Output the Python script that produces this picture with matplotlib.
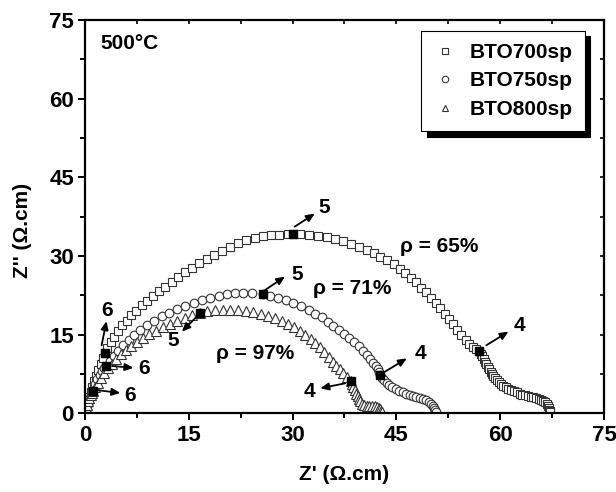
import matplotlib
matplotlib.use("Agg")
import matplotlib.pyplot as plt  # noqa: E402

plt.rcParams["font.family"] = ["Liberation Sans", "DejaVu Sans"]
plt.rcParams["font.weight"] = "bold"

# Nyquist points (Z', Z'') in ohm.cm
bto700_x = [0.1, 0.2, 0.3, 0.45, 0.6, 0.8, 1.0, 1.3, 1.6, 1.9, 2.3, 2.6, 2.9, 3.2, 3.7, 4.2,
            4.8, 5.4, 6.0, 6.7, 7.4, 8.2, 9.0, 9.8, 10.7, 11.6, 12.5, 13.5, 14.5, 15.5, 16.5,
            17.6, 18.7, 19.8, 20.9, 22.1, 23.3, 24.5, 25.7, 26.9, 28.1, 29.3, 30.1, 31.1,
            32.4, 33.7, 34.9, 36.1, 37.3, 38.5, 39.6, 40.7, 41.7, 42.7, 43.7, 44.6, 45.5,
            46.3, 47.1, 47.9, 48.6, 49.3, 50.0, 50.7, 51.3, 52.0, 52.6, 53.2, 53.8, 54.4,
            55.0, 55.5, 56.0, 56.5, 57.0, 57.2, 57.4, 57.6, 57.8, 58.0, 58.2, 58.4, 58.6,
            58.8, 59.0, 59.2, 59.5, 59.8, 60.1, 60.4, 60.8, 61.2, 61.6, 62.0, 62.4, 62.8,
            63.2, 63.6, 64.0, 64.4, 64.8, 65.2, 65.6, 65.9, 66.2, 66.5, 66.7, 66.9, 67.0,
            67.1, 67.2, 67.2]
bto700_y = [0.3, 0.9, 1.6, 2.4, 3.2, 4.1, 5.0, 6.1, 7.2, 8.3, 9.5, 10.6, 11.6, 12.5, 13.6, 14.6,
            15.7, 16.8, 17.7, 18.7, 19.6, 20.6, 21.5, 22.4, 23.3, 24.2, 25.1, 26.0, 26.9, 27.8,
            28.6, 29.5, 30.3, 31.0, 31.7, 32.4, 33.0, 33.5, 33.8, 34.0, 34.1, 34.2, 34.2, 34.2,
            34.1, 33.9, 33.6, 33.2, 32.8, 32.3, 31.8, 31.2, 30.6, 29.9, 29.2, 28.4, 27.6,
            26.8, 25.9, 25.0, 24.0, 23.1, 22.1, 21.1, 20.1, 19.0, 18.0, 17.0, 16.0, 15.0,
            14.0, 13.2, 12.6, 12.2, 11.9, 11.4, 10.9, 10.4, 9.9, 9.4, 8.9, 8.4, 8.0,
            7.6, 7.2, 6.8, 6.4, 6.0, 5.6, 5.3, 5.0, 4.7, 4.4, 4.2, 4.0, 3.8,
            3.6, 3.5, 3.3, 3.2, 3.1, 2.9, 2.8, 2.6, 2.4, 2.1, 1.8, 1.4, 1.0,
            0.7, 0.4, 0.2]

bto750_x = [0.1, 0.2, 0.3, 0.45, 0.6, 0.8, 1.0, 1.25, 1.5, 1.8, 2.1, 2.45, 2.8, 3.1, 3.6, 4.2,
            4.8, 5.5, 6.3, 7.1, 8.0, 9.0, 10.0, 11.1, 12.2, 13.3, 14.5, 15.7, 16.9, 18.1,
            19.3, 20.5, 21.7, 22.9, 24.1, 25.7, 26.8, 27.9, 29.0, 30.1, 31.2, 32.3, 33.3,
            34.2, 35.1, 35.9, 36.7, 37.5, 38.2, 38.9, 39.6, 40.2, 40.7, 41.2, 41.6, 42.0,
            42.3, 42.5, 42.6, 42.9, 43.2, 43.6, 44.0, 44.4, 44.9, 45.4, 45.9, 46.4, 46.9,
            47.4, 47.9, 48.4, 48.9, 49.3, 49.7, 50.0, 50.3, 50.5, 50.6, 50.7]
bto750_y = [0.3, 0.8, 1.4, 2.0, 2.7, 3.4, 4.1, 4.9, 5.7, 6.5, 7.3, 8.1, 8.7, 9.0, 10.0, 11.0,
            12.0, 13.0, 14.0, 15.0, 16.0, 16.9, 17.7, 18.5, 19.2, 19.9, 20.5, 21.1, 21.6, 22.0,
            22.4, 22.7, 22.9, 23.0, 23.0, 22.7, 22.4, 22.0, 21.6, 21.1, 20.5, 19.8, 19.0,
            18.3, 17.5, 16.7, 15.9, 15.1, 14.4, 13.6, 12.8, 12.0, 11.2, 10.4, 9.7, 9.0,
            8.4, 7.9, 7.4, 6.8, 6.3, 5.8, 5.4, 5.0, 4.6, 4.3, 4.0, 3.7, 3.5,
            3.3, 3.1, 2.9, 2.7, 2.5, 2.2, 1.9, 1.5, 1.1, 0.7, 0.3]

bto800_x = [0.05, 0.1, 0.2, 0.3, 0.45, 0.6, 0.8, 1.0, 1.2, 1.5, 1.9, 2.3, 2.8, 3.3, 3.9, 4.5,
            5.2, 5.9, 6.7, 7.5, 8.4, 9.3, 10.3, 11.3, 12.3, 13.3, 14.4, 15.5, 16.6, 17.7,
            18.8, 19.9, 21.0, 22.1, 23.2, 24.3, 25.4, 26.4, 27.4, 28.4, 29.3, 30.2, 31.0,
            31.8, 32.6, 33.3, 34.0, 34.6, 35.2, 35.8, 36.3, 36.8, 37.3, 37.8, 38.4, 38.6,
            38.8, 39.0, 39.2, 39.4, 39.6, 39.8, 40.0, 40.3, 40.7, 41.1, 41.5, 41.9, 42.2,
            42.5, 42.7, 42.8, 42.9]
bto800_y = [0.2, 0.6, 1.1, 1.7, 2.3, 2.9, 3.5, 3.9, 4.2, 5.0, 5.9, 6.8, 7.7, 8.6, 9.5, 10.4,
            11.3, 12.1, 12.9, 13.6, 14.4, 15.1, 15.8, 16.5, 17.1, 17.7, 18.2, 18.7, 19.2, 19.5,
            19.7, 19.8, 19.8, 19.7, 19.5, 19.3, 19.0, 18.6, 18.2, 17.7, 17.1, 16.5, 15.8,
            15.0, 14.2, 13.4, 12.6, 11.7, 10.8, 9.9, 9.0, 8.5, 7.7, 7.0, 6.2, 5.6,
            5.0, 4.4, 3.8, 3.3, 2.8, 2.3, 1.9, 1.6, 1.5, 1.5, 1.5, 1.4, 1.3,
            1.1, 0.8, 0.5, 0.2]

# highlighted frequency points (10^6, 10^5, 10^4 Hz)
mark_x = [2.9, 30.1, 57.0, 3.1, 25.7, 42.6, 1.2, 16.6, 38.4]
mark_y = [11.6, 34.2, 11.9, 9.0, 22.7, 7.4, 4.2, 19.2, 6.2]

# decade labels: text, text position, arrow tail, arrow head
dec_text = ["6", "5", "4", "6", "5", "4", "6", "5", "4"]
dec_pos = [(3.25, 19.6), (34.6, 39.2), (62.8, 16.8), (8.5, 8.6), (30.7, 26.5),
           (48.5, 11.4), (6.5, 3.4), (12.8, 13.9), (32.4, 4.1)]
dec_tail = [(2.4, 13.0), (30.3, 35.6), (58.0, 13.0), (3.9, 9.05), (26.0, 23.5),
            (43.4, 8.0), (1.45, 4.5), (16.1, 18.4), (37.6, 5.75)]
dec_head = [(3.1, 17.6), (33.2, 38.1), (61.2, 15.6), (7.0, 8.7), (28.9, 26.1),
            (46.5, 10.5), (5.1, 3.9), (14.0, 15.6), (34.0, 4.8)]

rho_text = ["\u03c1 = 65%", "\u03c1 = 71%", "\u03c1 = 97%"]
rho_pos = [(45.5, 31.9), (33.0, 23.8), (19.0, 11.5)]

fig = plt.figure(figsize=(6.16, 4.92), dpi=100)
ax = fig.add_axes([0.138, 0.1596, 0.8425, 0.7998])

edge = "#333333"
ax.plot(bto700_x, bto700_y, "s", ms=5.5, mfc="white", mec=edge, mew=0.8, ls="none",
        label="BTO700sp")
ax.plot(bto750_x, bto750_y, "o", ms=6.2, mfc="white", mec=edge, mew=0.8, ls="none",
        label="BTO750sp")
ax.plot(bto800_x, bto800_y, "^", ms=6.5, mfc="white", mec=edge, mew=0.8, ls="none",
        label="BTO800sp")
ax.plot(mark_x, mark_y, "s", ms=5.8, color="black", ls="none", zorder=4)

for t, p, a, b in zip(dec_text, dec_pos, dec_tail, dec_head):
    ax.annotate("", xy=b, xytext=a,
                arrowprops=dict(arrowstyle="-|>,head_length=0.5,head_width=0.22",
                                color="black", lw=1.3, shrinkA=0, shrinkB=0))
    ax.text(p[0], p[1], t, fontsize=15, fontweight="bold", ha="center", va="center")

for t, p in zip(rho_text, rho_pos):
    ax.text(p[0], p[1], t, fontsize=15, fontweight="bold", ha="left", va="center")

ax.text(2.2, 70.6, "500\u00b0C", fontsize=15, fontweight="bold", ha="left", va="center")

ax.set_xlim(0, 75)
ax.set_ylim(0, 75)
ax.set_xticks([0, 15, 30, 45, 60, 75])
ax.set_yticks([0, 15, 30, 45, 60, 75])
ax.set_xticks([7.5, 22.5, 37.5, 52.5, 67.5], minor=True)
ax.set_yticks([7.5, 22.5, 37.5, 52.5, 67.5], minor=True)
for s in ax.spines.values():
    s.set_linewidth(1.6)
ax.tick_params(which="both", direction="out", width=1.4, labelsize=16, pad=3)
ax.tick_params(which="major", length=5)
ax.tick_params(which="minor", length=3.5)
for lab in ax.get_xticklabels() + ax.get_yticklabels():
    lab.set_fontweight("bold")

# inward ticks on top and right
axt = ax.secondary_xaxis("top")
axt.set_xticks([0, 7.5, 15, 22.5, 30, 37.5, 45, 52.5, 60, 67.5, 75])
axt.tick_params(direction="in", length=3, width=1.2, labeltop=False)
axt.spines["top"].set_visible(False)
axr = ax.secondary_yaxis("right")
axr.set_yticks([0, 7.5, 15, 22.5, 30, 37.5, 45, 52.5, 60, 67.5, 75])
axr.tick_params(direction="in", length=3, width=1.2, labelright=False)
axr.spines["right"].set_visible(False)

ax.set_xlabel("Z' (\u03a9.cm)", fontsize=15, fontweight="bold")
ax.set_ylabel("Z'' (\u03a9.cm)", fontsize=15, fontweight="bold")
ax.xaxis.set_label_coords(0.5, -0.131)
ax.yaxis.set_label_coords(-0.102, 0.464)

leg = ax.legend(loc="upper right", bbox_to_anchor=(0.963, 0.973), borderaxespad=0,
                fancybox=False, framealpha=1, edgecolor="black", markerscale=0.75,
                handlelength=1.1, handletextpad=0.6, labelspacing=0.45, borderpad=0.6,
                prop=dict(size=15, weight="bold"),
                shadow={"ox": 4, "oy": -4, "color": "black", "alpha": 1})
leg.get_frame().set_linewidth(0.8)

fig.savefig("out.png", dpi=100)
